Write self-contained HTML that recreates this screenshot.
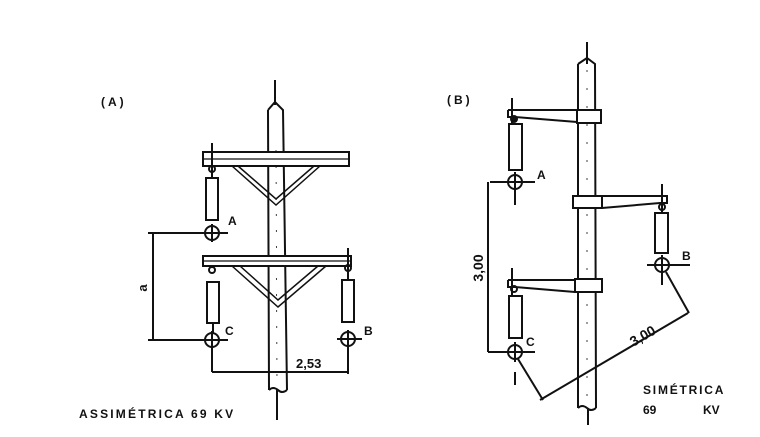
<!DOCTYPE html>
<html><head><meta charset="utf-8"><style>
html,body{margin:0;padding:0;background:#fff;}
svg{display:block}
text{font-family:"Liberation Sans",sans-serif;font-weight:bold;fill:#111;}
</style></head><body>
<svg width="760" height="437" viewBox="0 0 760 437" xmlns="http://www.w3.org/2000/svg">
<g stroke="#111" stroke-width="2" fill="none">
<!-- ===== A ===== -->
<line x1="275" y1="80" x2="275" y2="105"/>
<path d="M268,110 L275,102 L283,110 L287,390 M268,110 L269,390" />
<line x1="276" y1="150" x2="277" y2="385" stroke-width="0.8" stroke-dasharray="2,14"/>
<path d="M269,390 q4,-4 9,0 q4,4 9,0"/>
<line x1="277" y1="390" x2="277" y2="420"/>
<rect x="203" y="152" width="146" height="14" fill="#fff"/>
<line x1="203" y1="159" x2="349" y2="159" stroke-width="1.2"/>
<path d="M232,166 L276,205 L320,166 M238,166 L276,199 L314,166" stroke-width="1.5"/>
<line x1="212" y1="143" x2="212" y2="178"/>
<circle cx="212" cy="169" r="3"/>
<rect x="206" y="178" width="12" height="42"/>
<circle cx="212" cy="233" r="7"/>
<line x1="203" y1="233" x2="228" y2="233"/><line x1="212" y1="224" x2="212" y2="242"/>
<rect x="203" y="256" width="148" height="10" fill="#fff"/>
<line x1="203" y1="261" x2="351" y2="261" stroke-width="1.2"/>
<path d="M232,266 L278,307 L326,266 M240,266 L278,300 L318,266" stroke-width="1.5"/>
<circle cx="212" cy="270" r="3"/>
<rect x="207" y="282" width="12" height="41"/>
<line x1="213" y1="323" x2="213" y2="333"/>
<circle cx="212" cy="340" r="7"/>
<line x1="203" y1="340" x2="228" y2="340"/><line x1="212" y1="331" x2="212" y2="372"/>
<line x1="348" y1="248" x2="348" y2="280"/>
<circle cx="348" cy="268" r="3"/>
<rect x="342" y="280" width="12" height="42"/>
<circle cx="348" cy="339" r="7"/>
<line x1="337" y1="339" x2="362" y2="339"/><line x1="348" y1="330" x2="348" y2="374"/>
<line x1="148" y1="233" x2="205" y2="233"/>
<line x1="148" y1="340" x2="205" y2="340"/>
<line x1="153" y1="233" x2="153" y2="340"/>
<line x1="212" y1="372" x2="348" y2="372"/>
<!-- ===== B ===== -->
<line x1="587" y1="42" x2="587" y2="64"/>
<path d="M578,64 L587,58 L595,64 L596,408 M578,64 L578,408"/>
<line x1="587" y1="70" x2="587" y2="400" stroke-width="0.8" stroke-dasharray="2,16"/>
<path d="M578,408 q4,-4 9,0 q4,4 9,0"/>
<line x1="588" y1="408" x2="588" y2="425"/>
<rect x="577" y="110" width="24" height="13" fill="#fff"/>
<rect x="573" y="196" width="29" height="12" fill="#fff"/>
<rect x="575" y="279" width="27" height="13" fill="#fff"/>
<path d="M508,110 L577,110 M508,110 L508,117 L515,117 L577,122"/>
<line x1="512" y1="98" x2="512" y2="124"/>
<circle cx="514" cy="119" r="3" fill="#111"/>
<rect x="509" y="124" width="13" height="46"/>
<circle cx="515" cy="182" r="7"/>
<line x1="490" y1="182" x2="535" y2="182"/><line x1="515" y1="172" x2="515" y2="205"/>
<path d="M602,196 L667,196 L667,203 L660,203 L602,208"/>
<line x1="662" y1="184" x2="662" y2="213"/>
<circle cx="662" cy="207" r="3"/>
<rect x="655" y="213" width="13" height="40"/>
<circle cx="662" cy="265" r="7"/>
<line x1="647" y1="265" x2="690" y2="265"/><line x1="662" y1="255" x2="662" y2="285"/>
<path d="M508,280 L575,280 M508,280 L508,287 L515,287 L575,292"/>
<line x1="512" y1="268" x2="512" y2="296"/>
<circle cx="514" cy="289" r="3"/>
<rect x="509" y="296" width="13" height="42"/>
<circle cx="515" cy="352" r="7"/>
<line x1="488" y1="352" x2="535" y2="352"/><line x1="515" y1="342" x2="515" y2="362"/>
<line x1="515" y1="372" x2="515" y2="385"/>
<line x1="488" y1="182" x2="488" y2="352"/>
<line x1="518" y1="359" x2="543" y2="400"/>
<line x1="666" y1="272" x2="689" y2="313"/>
<line x1="540" y1="400" x2="688" y2="313"/>
</g>
<text x="101" y="106" font-size="12" letter-spacing="3">(A)</text>
<text x="447" y="104" font-size="12" letter-spacing="3">(B)</text>
<text x="228" y="225" font-size="12">A</text>
<text x="225" y="335" font-size="12">C</text>
<text x="364" y="335" font-size="12">B</text>
<text x="537" y="179" font-size="12">A</text>
<text x="682" y="260" font-size="12">B</text>
<text x="526" y="346" font-size="12">C</text>
<text x="296" y="368" font-size="13">2,53</text>
<text transform="translate(147,288) rotate(-90)" font-size="13" text-anchor="middle">a</text>
<text transform="translate(483,268) rotate(-90)" font-size="14" text-anchor="middle">3,00</text>
<text transform="translate(645,340) rotate(-30)" font-size="14" text-anchor="middle">3,00</text>
<text x="79" y="418" font-size="12" letter-spacing="2.2">ASSIMÉTRICA  69  KV</text>
<text x="643" y="394" font-size="12" letter-spacing="1.8">SIMÉTRICA</text>
<text x="643" y="414" font-size="12">69</text>
<text x="703" y="414" font-size="12">KV</text>
</svg>
</body></html>
